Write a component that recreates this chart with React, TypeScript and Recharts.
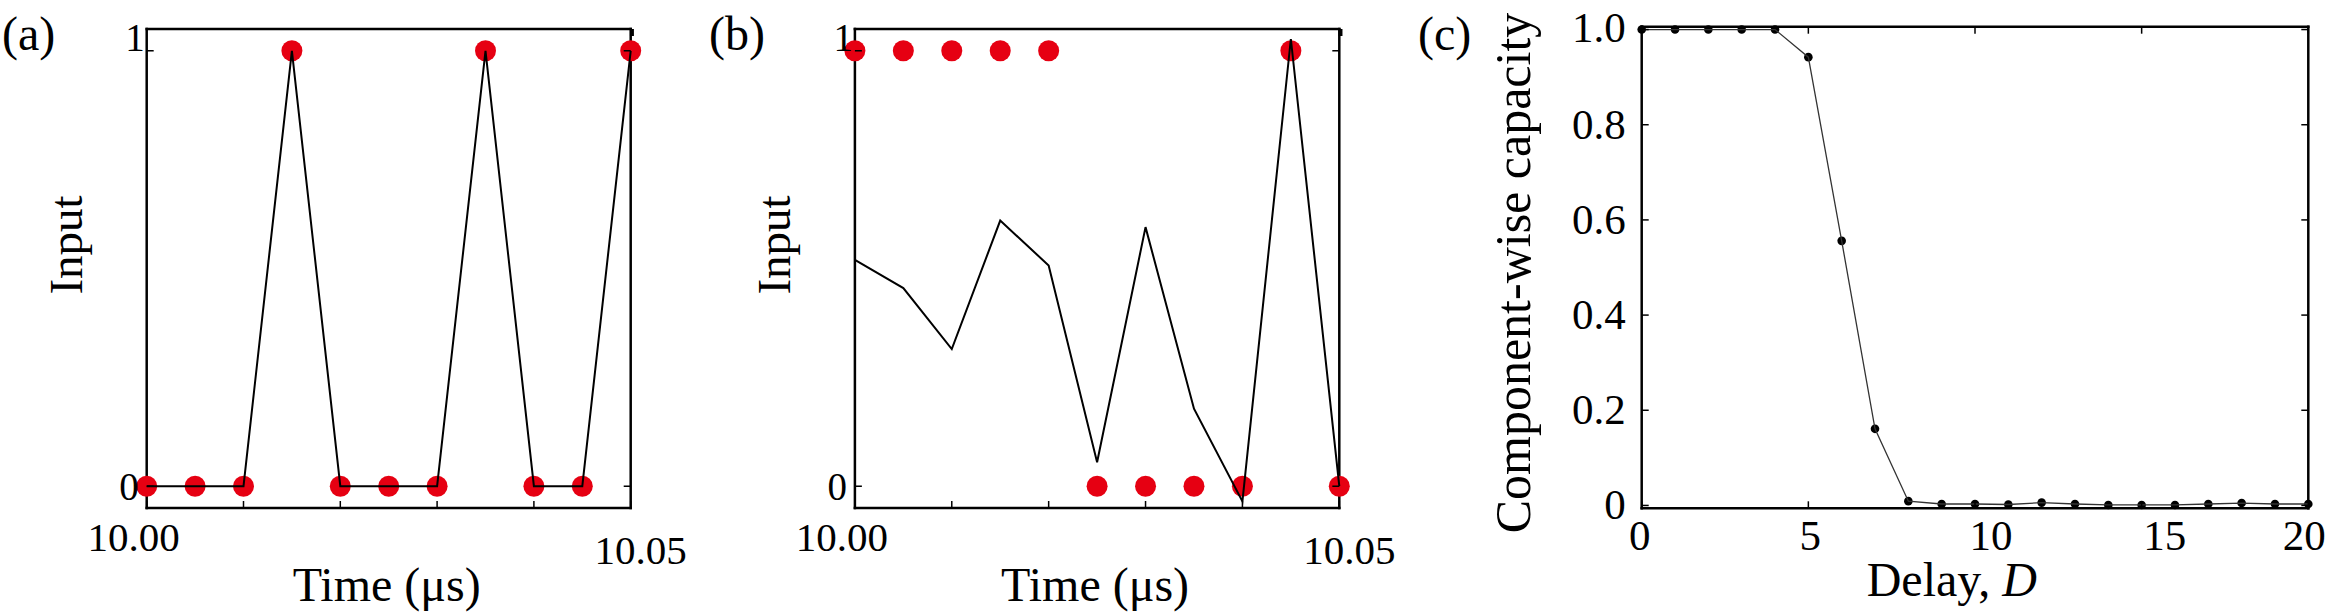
import { LineChart, Line, XAxis, YAxis } from 'recharts';

const FONT = '"Liberation Serif", "Times New Roman", Times, serif';
const RED = '#e60012';

// panels (a) and (b): 11 input samples between 10.00 and 10.05 us
const timeSteps = [10.0, 10.005, 10.01, 10.015, 10.02, 10.025, 10.03, 10.035, 10.04, 10.045, 10.05];
const inputA = [0, 0, 0, 1, 0, 0, 0, 1, 0, 0, 1];
const inputB = [1, 1, 1, 1, 1, 0, 0, 0, 0, 1, 0];
const responseB = [0.52, 0.455, 0.315, 0.61, 0.507, 0.055, 0.595, 0.178, -0.035, 1.027, 0.0];
const timeTicks = [10.0, 10.01, 10.02, 10.03, 10.04, 10.05];
const timeTickLabels = ['10.00', '', '', '', '', '10.05'];
const inputTicks = [0, 1];
const inputTickLabels = ['0', '1'];

// panel (c): capacity vs delay
const delays = [0, 1, 2, 3, 4, 5, 6, 7, 8, 9, 10, 11, 12, 13, 14, 15, 16, 17, 18, 19, 20];
const capacity = [1, 1, 1, 1, 1, 0.942, 0.556, 0.161, 0.009, 0.003, 0.003, 0.002, 0.006, 0.003, 0.001, 0.001, 0.001, 0.003, 0.005, 0.003, 0.003];
const delayTicks = [0, 5, 10, 15, 20];
const delayTickLabels = ['0', '5', '10', '15', '20'];
const capTicks = [0, 0.2, 0.4, 0.6, 0.8, 1.0];
const capTickLabels = ['0', '0.2', '0.4', '0.6', '0.8', '1.0'];

const frame = { stroke: '#000', strokeWidth: 2.5, strokeLinecap: 'square' as const };

// matplotlib-like ticks pointing into the plot, with optional label
function InwardTick(props: any) {
    const { x, y, index, side, labels, fontSize, dx, dy } = props;
    const len = 7;
    const text = labels ? labels[index] : '';
    let x2 = x;
    let y2 = y;
    if (side === 'bottom') y2 = y - len;
    if (side === 'top') y2 = y + len;
    if (side === 'left') x2 = x + len;
    if (side === 'right') x2 = x - len;
    return (
        <g>
            <line x1={x} y1={y} x2={x2} y2={y2} stroke="#000" strokeWidth={1.5} />
            {text ? (
                <text
                    x={x + (dx ? dx[index] : 0)}
                    y={y + (dy ? dy[index] : 0)}
                    textAnchor={side === 'left' ? 'end' : 'middle'}
                    fontSize={fontSize}
                    fontFamily={FONT}
                    fill="#000"
                >
                    {text}
                </text>
            ) : null}
        </g>
    );
}

// axes are 1px thick boxes so they still render; margins are reduced by 1
const axisBase = { tickSize: 0, tickMargin: 0, tickLine: false, interval: 0 as const, axisLine: frame };

function InputPanel({ data, letter, twoSeries }: { data: any[]; letter: string; twoSeries: boolean }) {
    const left = twoSeries ? 154.9 : 146.7;
    const right = 700 - (twoSeries ? 639.3 : 630.7);
    const plotW = 700 - left - right;
    return (
        <LineChart width={700} height={616} data={data} margin={{ top: 28, right: right - 1, bottom: 107, left: left - 1 }}>
            <XAxis
                dataKey="t"
                type="number"
                domain={[10, 10.05]}
                ticks={timeTicks}
                height={1}
                {...axisBase}
                tick={(p: any) => (
                    <InwardTick {...p} side="bottom" labels={timeTickLabels} fontSize={41}
                        dx={[-13, 0, 0, 0, 0, 10]} dy={[43, 0, 0, 0, 0, 56]} />
                )}
            />
            <XAxis
                xAxisId="top"
                orientation="top"
                type="number"
                domain={[10, 10.05]}
                allowDataOverflow
                ticks={timeTicks}
                height={1}
                {...axisBase}
                tick={(p: any) => <InwardTick {...p} side="top" />}
            />
            <YAxis
                type="number"
                domain={[-0.05, 1.05]}
                ticks={inputTicks}
                width={1}
                {...axisBase}
                tick={(p: any) => (
                    <InwardTick {...p} side="left" labels={inputTickLabels} fontSize={39}
                        dx={[-8, -2]} dy={[13.5, 0]} />
                )}
            />
            <YAxis
                yAxisId="right"
                orientation="right"
                type="number"
                domain={[-0.05, 1.05]}
                allowDataOverflow
                ticks={inputTicks}
                width={1}
                {...axisBase}
                tick={(p: any) => <InwardTick {...p} side="right" />}
            />
            {twoSeries ? (
                <Line dataKey="input" type="linear" stroke="none" dot={{ r: 10.5, fill: RED, stroke: 'none' }}
                    activeDot={false} isAnimationActive={false} zIndex={600} />
            ) : null}
            <Line
                dataKey={twoSeries ? 'response' : 'input'}
                type="linear"
                stroke="#000"
                strokeWidth={2}
                dot={twoSeries ? false : { r: 10.5, fill: RED, stroke: 'none' }}
                activeDot={false}
                isAnimationActive={false}
                zIndex={610}
            />
            <text x={twoSeries ? 9 : 2} y={50} fontSize={48} fontFamily={FONT}>{letter}</text>
            <text
                x={left - 65}
                y={245}
                transform={`rotate(-90, ${left - 65}, 245)`}
                textAnchor="middle"
                fontSize={47}
                fontFamily={FONT}
            >
                Input
            </text>
            <text x={left + plotW / 2 - 2} y={601} textAnchor="middle" fontSize={48} fontFamily={FONT}>
                Time (μs)
            </text>
        </LineChart>
    );
}

function CapacityPanel() {
    const data = delays.map((d, i) => ({ d, c: capacity[i] }));
    const xDx = [-2, 2, 16, 23, -4];
    return (
        <LineChart width={931} height={616} data={data} margin={{ top: 25.7, right: 21.7, bottom: 106.7, left: 240.7 }}>
            <XAxis
                dataKey="d"
                type="number"
                domain={[0, 20]}
                ticks={delayTicks}
                height={1}
                {...axisBase}
                tick={(p: any) => (
                    <InwardTick {...p} side="bottom" labels={delayTickLabels} fontSize={43}
                        dx={xDx} dy={[42, 42, 42, 42, 42]} />
                )}
            />
            <XAxis
                xAxisId="top"
                orientation="top"
                type="number"
                domain={[0, 20]}
                allowDataOverflow
                ticks={delayTicks}
                height={1}
                {...axisBase}
                tick={(p: any) => <InwardTick {...p} side="top" />}
            />
            <YAxis
                type="number"
                domain={[-0.006, 1.006]}
                ticks={capTicks}
                width={1}
                {...axisBase}
                tick={(p: any) => (
                    <InwardTick {...p} side="left" labels={capTickLabels} fontSize={43}
                        dx={[-16, -16, -16, -16, -16, -16]} dy={[14, 14, 14, 14, 14, 12]} />
                )}
            />
            <YAxis
                yAxisId="right"
                orientation="right"
                type="number"
                domain={[-0.006, 1.006]}
                allowDataOverflow
                ticks={capTicks}
                width={1}
                {...axisBase}
                tick={(p: any) => <InwardTick {...p} side="right" />}
            />
            <Line
                dataKey="c"
                type="linear"
                stroke="#333"
                strokeWidth={1.3}
                dot={{ r: 4.3, fill: '#000', stroke: 'none' }}
                activeDot={false}
                isAnimationActive={false}
                zIndex={600}
            />
            <text x={18} y={50} fontSize={48} fontFamily={FONT}>(c)</text>
            <text
                x={130}
                y={273}
                transform="rotate(-90, 130, 273)"
                textAnchor="middle"
                fontSize={50}
                fontFamily={FONT}
            >
                Component-wise capacity
            </text>
            <text x={466.7} y={596} fontSize={48} fontFamily={FONT}>
                Delay, <tspan fontStyle="italic">D</tspan>
            </text>
        </LineChart>
    );
}

export default function App() {
    const dataA = timeSteps.map((t, i) => ({ t, input: inputA[i] }));
    const dataB = timeSteps.map((t, i) => ({ t, input: inputB[i], response: responseB[i] }));
    return (
        <div style={{ position: 'absolute', left: 0, top: 0, width: 2331, height: 616, background: '#fff' }}>
            <div style={{ position: 'absolute', left: 0, top: 0 }}>
                <InputPanel data={dataA} letter="(a)" twoSeries={false} />
            </div>
            <div style={{ position: 'absolute', left: 700, top: 0 }}>
                <InputPanel data={dataB} letter="(b)" twoSeries={true} />
            </div>
            <div style={{ position: 'absolute', left: 1400, top: 0 }}>
                <CapacityPanel />
            </div>
        </div>
    );
}
